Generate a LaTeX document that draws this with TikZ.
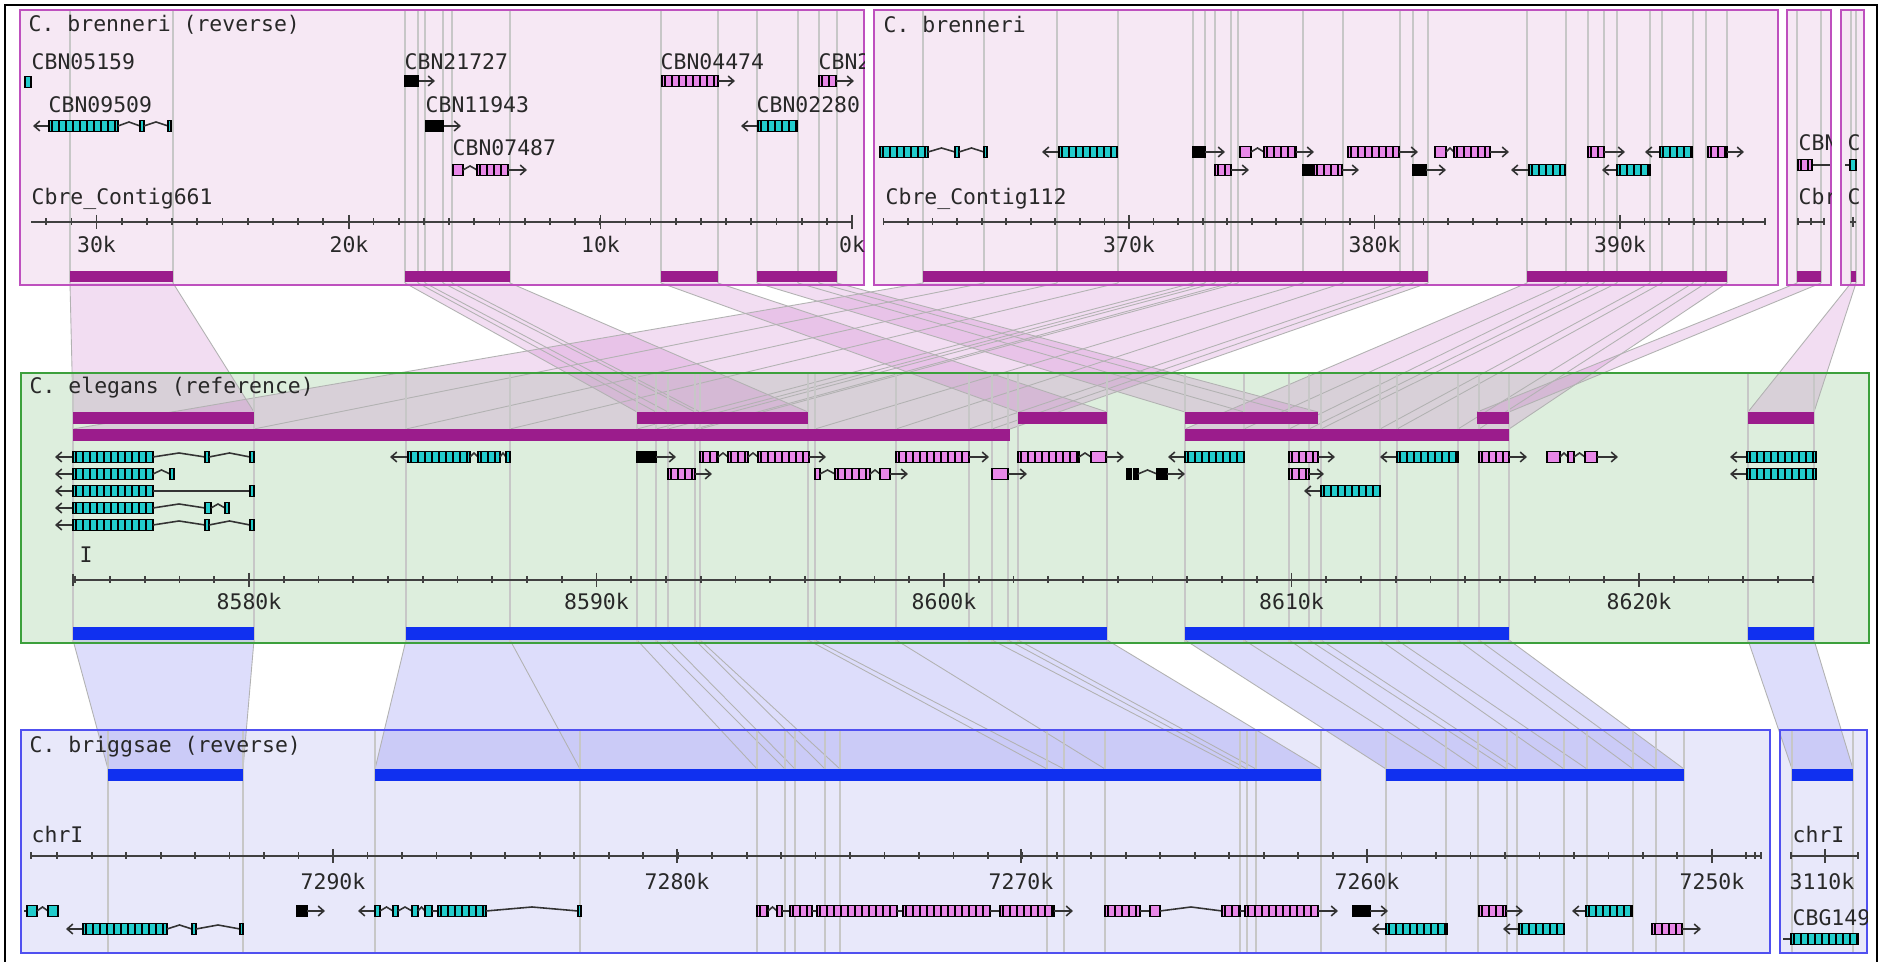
\documentclass[tikz,border=0pt]{standalone}
\usepackage{fontspec}
\setmonofont{DejaVu Sans Mono}
\usepackage{tikz}
\usetikzlibrary{arrows.meta}

\definecolor{pinkbg}{RGB}{246,232,244}
\definecolor{pinkedge}{RGB}{190,80,190}
\definecolor{magbar}{RGB}{155,28,140}
\definecolor{greenbg}{RGB}{221,238,221}
\definecolor{greenedge}{RGB}{60,160,60}
\definecolor{bluebg}{RGB}{232,232,250}
\definecolor{blueedge}{RGB}{80,80,240}
\definecolor{bluebar}{RGB}{16,48,240}
\definecolor{synpink}{RGB}{205,120,205}
\definecolor{synblue}{RGB}{120,120,240}
\definecolor{cyn}{RGB}{34,204,204}
\definecolor{pnk}{RGB}{232,136,232}
\definecolor{txtc}{RGB}{40,40,40}

\newcommand{\exbox}[4]{%
\fill[#4](#1,#3-5.5)rectangle(#2,#3+5.5);
\begin{scope}
\clip(#1,#3-5.5)rectangle(#2,#3+5.5);
\foreach \q in {3,10,...,160}\draw[line width=0.75pt](#1+\q,#3-6)--(#1+\q,#3+6);
\end{scope}
\draw[line width=0.4pt](#1,#3-5.5)rectangle(#2,#3+5.5);}
\newcommand{\plainex}[4]{\filldraw[fill=#4,draw=black,line width=0.4pt](#1,#3-5.5)rectangle(#2,#3+5.5);}
\newcommand{\intr}[3]{\draw[gl](#1,#3)--({(#1+#2)/2},#3-4)--(#2,#3);}

\begin{document}
\begin{tikzpicture}[x=0.01cm,y=-0.01cm,>={Straight Barb[length=1.6pt,width=2.8pt]},
gl/.style={line width=0.45pt,black!80},
ax/.style={line width=0.5pt,black!75},
vl/.style={line width=0.3pt,black!22},
synl/.style={line width=0.25pt,black!30},
synp/.style={fill=synpink,fill opacity=0.25},
synb/.style={fill=synblue,fill opacity=0.25},
lbl/.style={font=\ttfamily\fontsize{6.1}{7}\selectfont,text=txtc,inner sep=0,anchor=west},
klbl/.style={font=\ttfamily\fontsize{6.1}{7}\selectfont,text=txtc,inner sep=0}]
\useasboundingbox(0,0)rectangle(1881,962);
\fill[white](0,0)rectangle(1881,962);

\fill[pinkbg](20,10)rectangle(864,285);
\fill[pinkbg](874,10)rectangle(1778,285);
\fill[pinkbg](1787,10)rectangle(1831,285);
\fill[pinkbg](1841,10)rectangle(1864,285);
\fill[greenbg](21,373)rectangle(1869,643);
\fill[bluebg](21,730)rectangle(1770,953);
\fill[bluebg](1780,730)rectangle(1867,953);

\fill[synp](70,283)--(173,283)--(254,412)--(73,412)--cycle;
\fill[synp](405,283)--(510,283)--(808,412)--(637,412)--cycle;
\fill[synp](661,283)--(718,283)--(1107,412)--(1018,412)--cycle;
\fill[synp](757,283)--(837,283)--(1318,412)--(1185,412)--cycle;
\fill[synp](923,283)--(1428,283)--(1010,429)--(73,429)--cycle;
\fill[synp](1527,283)--(1727,283)--(1509,429)--(1185,429)--cycle;
\fill[synp](1797,283)--(1821,283)--(1509,412)--(1477,412)--cycle;
\fill[synp](1851,283)--(1856,283)--(1814,412)--(1748,412)--cycle;
\foreach \a/\b in {70/73,173/254,405/637,418/656,425/668,443/695,452/700,510/808,661/1018,718/1107,757/1185,798/1244,819/1289,837/1318,1797/1477,1821/1509,1851/1748,1856/1814}
\draw[synl](\a,283)--(\b,412);
\foreach \a/\b in {923/73,984/254,1057/406,1118/510,1193/637,1205/656,1215/668,1231/695,1238/700,1303/815,1343/896,1400/969,1413/992,1428/1010,1527/1185,1566/1244,1588/1289,1604/1309,1617/1321,1650/1380,1662/1397,1693/1458,1706/1479,1727/1509}
\draw[synl](\a,283)--(\b,429);

\fill[synb](73,640)--(254,640)--(243,769)--(108,769)--cycle;
\fill[synb](406,640)--(1107,640)--(1321,769)--(375,769)--cycle;
\fill[synb](1185,640)--(1509,640)--(1684,769)--(1386,769)--cycle;
\fill[synb](1748,640)--(1814,640)--(1853,769)--(1792,769)--cycle;
\foreach \a/\b in {73/108,254/243,406/375,510/580,637/757,656/785,668/795,695/825,700/840,808/1047,815/1064,896/1105,992/1240,1008/1247,1018/1256,1107/1321,1185/1386,1244/1446,1289/1478,1309/1507,1321/1517,1380/1564,1397/1587,1458/1633,1479/1656,1509/1684,1748/1792,1814/1853}
\draw[synl](\a,640)--(\b,769);

\foreach \x in {70,173,405,418,425,443,452,510,661,718,757,798,819,837,923,984,1057,1118,1193,1205,1215,1231,1238,1303,1343,1400,1413,1428,1527,1566,1588,1604,1617,1650,1662,1693,1706,1727,1797,1821,1851,1856}
\draw[vl](\x,10)--(\x,283);
\foreach \x in {73,254,406,510,637,656,668,695,700,808,815,896,969,992,1008,1018,1107,1185,1244,1289,1309,1321,1380,1397,1458,1479,1509,1748,1814}
\draw[vl](\x,373)--(\x,643);
\foreach \x in {108,243,375,580,757,785,795,825,840,1047,1064,1105,1240,1247,1256,1321,1386,1446,1478,1507,1517,1564,1587,1633,1656,1684,1792,1853}
\draw[vl](\x,730)--(\x,953);

\draw[pinkedge,line width=0.6pt](20,10)rectangle(864,285);
\draw[pinkedge,line width=0.6pt](874,10)rectangle(1778,285);
\draw[pinkedge,line width=0.6pt](1787,10)rectangle(1831,285);
\draw[pinkedge,line width=0.6pt](1841,10)rectangle(1864,285);
\draw[greenedge,line width=0.6pt](21,373)rectangle(1869,643);
\draw[blueedge,line width=0.6pt](21,730)rectangle(1770,953);
\draw[blueedge,line width=0.6pt](1780,730)rectangle(1867,953);
\draw[line width=0.7pt](5,962)--(5,5)--(1877,5)--(1877,962);

\foreach \a/\b in {70/173,405/510,661/718,757/837,923/1428,1527/1727,1797/1821,1851/1856}
\fill[magbar](\a,271)rectangle(\b,282);
\foreach \a/\b in {73/254,637/808,1018/1107,1185/1318,1477/1509,1748/1814}
\fill[magbar](\a,412)rectangle(\b,424);
\foreach \a/\b in {73/1010,1185/1509}
\fill[magbar](\a,429)rectangle(\b,441);
\foreach \a/\b in {73/254,406/1107,1185/1509,1748/1814}
\fill[bluebar](\a,627)rectangle(\b,640);
\foreach \a/\b in {108/243,375/1321,1386/1684,1792/1853}
\fill[bluebar](\a,769)rectangle(\b,781);

\begin{scope}
\clip(20,10)rectangle(864,285);
\node[lbl] at (28,25) {C. brenneri (reverse)};
\node[lbl] at (31,62) {CBN05159};
\plainex{25}{31}{82}{cyn}
\node[lbl] at (48,105) {CBN09509};
\draw[gl,->](49,126)--(33,126); \exbox{49}{118}{126}{cyn}
\intr{118}{140}{126} \plainex{140}{144}{126}{cyn} \intr{144}{168}{126} \plainex{168}{171}{126}{cyn}
\node[lbl] at (404,62) {CBN21727};
\draw[gl,->](418,81)--(435,81); \plainex{405}{418}{81}{black}
\node[lbl] at (425,105) {CBN11943};
\draw[gl,->](443,126)--(461,126); \plainex{426}{443}{126}{black}
\node[lbl] at (452,148) {CBN07487};
\plainex{453}{463}{170}{pnk} \intr{463}{477}{170} \exbox{477}{508}{170}{pnk} \draw[gl,->](508,170)--(527,170);
\node[lbl] at (660,62) {CBN04474};
\exbox{662}{718}{81}{pnk} \draw[gl,->](718,81)--(735,81);
\node[lbl] at (818,62) {CBN2};
\exbox{819}{836}{81}{pnk} \draw[gl,->](836,81)--(854,81);
\node[lbl] at (756,105) {CBN02280};
\draw[gl,->](758,126)--(741,126); \exbox{758}{797}{126}{cyn}
\node[lbl] at (31,199) {Cbre\_Contig661};
\draw[ax](31,222)--(852,222);
\foreach \k in {0,...,32}\draw[ax]({852-25.18*\k},218.5)--++(0,7);
\foreach \x/\t in {96.5/30k,349/20k,600.5/10k,852/0k}
{\draw[ax](\x,215)--(\x,229); \node[klbl] at (\x,245) {\t};}
\end{scope}

\begin{scope}
\clip(874,10)rectangle(1778,285);
\node[lbl] at (883,25) {C. brenneri};
\exbox{880}{928}{152}{cyn} \intr{928}{955}{152} \plainex{955}{959}{152}{cyn} \intr{959}{984}{152} \plainex{984}{987}{152}{cyn}
\draw[gl,->](1059,152)--(1042,152); \exbox{1059}{1117}{152}{cyn}
\plainex{1193}{1205}{152}{black} \draw[gl,->](1205,152)--(1225,152);
\plainex{1240}{1251}{152}{pnk} \intr{1251}{1264}{152} \exbox{1264}{1296}{152}{pnk} \draw[gl,->](1296,152)--(1314,152);
\exbox{1348}{1399}{152}{pnk} \draw[gl,->](1399,152)--(1418,152);
\plainex{1435}{1446}{152}{pnk} \intr{1446}{1454}{152} \exbox{1454}{1490}{152}{pnk} \draw[gl,->](1490,152)--(1509,152);
\exbox{1588}{1604}{152}{pnk} \draw[gl,->](1604,152)--(1625,152);
\draw[gl,->](1660,152)--(1645,152); \exbox{1660}{1692}{152}{cyn}
\exbox{1708}{1727}{152}{pnk} \draw[gl,->](1727,152)--(1744,152);
\exbox{1215}{1231}{170}{pnk} \draw[gl,->](1231,170)--(1249,170);
\plainex{1303}{1312}{170}{black} \exbox{1314}{1342}{170}{pnk} \draw[gl,->](1342,170)--(1359,170);
\plainex{1413}{1426}{170}{black} \draw[gl,->](1426,170)--(1446,170);
\draw[gl,->](1529,170)--(1511,170); \exbox{1529}{1565}{170}{cyn}
\draw[gl,->](1617,170)--(1602,170); \exbox{1617}{1650}{170}{cyn}
\node[lbl] at (885,199) {Cbre\_Contig112};
\draw[ax](883,222)--(1765,222);
\foreach \k in {-10,...,25}\draw[ax]({1129+24.55*\k},218.5)--++(0,7);
\draw[ax](1765,218.5)--++(0,7);
\foreach \x/\t in {1129/370k,1374.5/380k,1620/390k}
{\draw[ax](\x,215)--(\x,229); \node[klbl] at (\x,245) {\t};}
\end{scope}

\begin{scope}
\clip(1787,10)rectangle(1831,285);
\node[lbl] at (1798,143) {CBN};
\draw[gl](1812,165)--(1830,165); \exbox{1798}{1812}{165}{pnk}
\node[lbl] at (1798,197) {Cbre};
\draw[ax](1798,222)--(1824,222);
\foreach \x in {1798,1811,1824}\draw[ax](\x,218.5)--++(0,7);
\end{scope}
\begin{scope}
\clip(1841,10)rectangle(1864,285);
\node[lbl] at (1847,143) {C};
\draw[gl](1845,165)--(1850,165); \plainex{1850}{1856}{165}{cyn}
\node[lbl] at (1847,197) {C};
\draw[ax](1850,222)--(1856,222)(1853,217)--(1853,227);
\end{scope}

\begin{scope}
\clip(21,373)rectangle(1869,643);
\node[lbl] at (29,388) {C. elegans (reference)};
\foreach \y in {457,525}{
\draw[gl,->](73,\y)--(55,\y); \exbox{73}{153}{\y}{cyn} \intr{153}{205}{\y} \plainex{205}{209}{\y}{cyn} \intr{209}{250}{\y} \plainex{250}{254}{\y}{cyn}}
\draw[gl,->](408,457)--(390,457); \exbox{408}{470}{457}{cyn} \intr{470}{478}{457} \exbox{478}{500}{457}{cyn} \intr{500}{506}{457} \plainex{506}{510}{457}{cyn}
\plainex{637}{656}{457}{black} \draw[gl,->](656,457)--(676,457);
\exbox{700}{718}{457}{pnk} \intr{718}{728}{457} \exbox{728}{748}{457}{pnk} \intr{748}{758}{457} \exbox{758}{809}{457}{pnk} \draw[gl,->](809,457)--(826,457);
\exbox{896}{969}{457}{pnk} \draw[gl,->](969,457)--(989,457);
\exbox{1018}{1079}{457}{pnk} \intr{1079}{1091}{457} \plainex{1091}{1106}{457}{pnk} \draw[gl,->](1106,457)--(1124,457);
\draw[gl,->](1185,457)--(1168,457); \exbox{1185}{1244}{457}{cyn}
\exbox{1289}{1318}{457}{pnk} \draw[gl,->](1318,457)--(1335,457);
\draw[gl,->](1397,457)--(1380,457); \exbox{1397}{1458}{457}{cyn}
\exbox{1479}{1509}{457}{pnk} \draw[gl,->](1509,457)--(1527,457);
\plainex{1547}{1560}{457}{pnk} \intr{1560}{1568}{457} \plainex{1568}{1574}{457}{pnk} \intr{1574}{1585}{457} \plainex{1585}{1597}{457}{pnk} \draw[gl,->](1597,457)--(1618,457);
\draw[gl,->](73,474)--(55,474); \exbox{73}{153}{474}{cyn} \intr{153}{170}{474} \plainex{170}{174}{474}{cyn}
\exbox{668}{695}{474}{pnk} \draw[gl,->](695,474)--(712,474);
\plainex{815}{820}{474}{pnk} \intr{820}{835}{474} \exbox{835}{870}{474}{pnk} \intr{870}{880}{474} \plainex{880}{890}{474}{pnk} \draw[gl,->](890,474)--(908,474);
\plainex{992}{1008}{474}{pnk} \draw[gl,->](1008,474)--(1027,474);
\plainex{1127}{1131}{474}{black} \plainex{1134}{1138}{474}{black} \intr{1138}{1157}{474} \plainex{1157}{1167}{474}{black} \draw[gl,->](1167,474)--(1185,474);
\exbox{1289}{1309}{474}{pnk} \draw[gl,->](1309,474)--(1324,474);
\foreach \y in {457,474}{\draw[gl,->](1747,\y)--(1730,\y); \exbox{1747}{1816}{\y}{cyn}}
\draw[gl,->](73,491)--(55,491); \exbox{73}{153}{491}{cyn} \draw[gl](153,491)--(250,491); \plainex{250}{254}{491}{cyn}
\draw[gl,->](1321,491)--(1304,491); \exbox{1321}{1380}{491}{cyn}
\draw[gl,->](73,508)--(55,508); \exbox{73}{153}{508}{cyn} \intr{153}{205}{508} \plainex{205}{211}{508}{cyn} \intr{211}{225}{508} \plainex{225}{229}{508}{cyn}
\node[lbl] at (79,555) {I};
\draw[ax](73,580)--(1814,580);
\foreach \k in {-5,...,45}\draw[ax]({249+34.75*\k},576.5)--++(0,7);
\draw[ax](73,574)--(73,586);
\foreach \x/\t in {249/8580k,596.5/8590k,944/8600k,1291.5/8610k,1639/8620k}
{\draw[ax](\x,573)--(\x,587); \node[klbl] at (\x,602) {\t};}
\end{scope}

\begin{scope}
\clip(21,730)rectangle(1770,953);
\node[lbl] at (29,747) {C. briggsae (reverse)};
\node[lbl] at (31,835) {chrI};
\draw[ax](31,856)--(1761,856);
\foreach \k in {-8,...,41}\draw[ax]({333+34.47*\k},852.5)--++(0,7);
\foreach \x in {31,1755,1761}\draw[ax](\x,852.5)--++(0,7);
\foreach \x/\t in {333/7290k,677/7280k,1021/7270k,1367/7260k,1712/7250k}
{\draw[ax](\x,849)--(\x,863); \node[klbl] at (\x,882) {\t};}
\draw[gl](24,911)--(27,911); \plainex{27}{37}{911}{cyn} \intr{37}{48}{911} \plainex{48}{58}{911}{cyn}
\plainex{297}{307}{911}{black} \draw[gl,->](307,911)--(325,911);
\draw[gl,->](375,911)--(358,911); \plainex{375}{380}{911}{cyn} \intr{380}{393}{911} \plainex{393}{398}{911}{cyn} \intr{398}{412}{911} \plainex{412}{418}{911}{cyn} \intr{418}{425}{911} \plainex{425}{432}{911}{cyn}
\draw[gl](432,911)--(438,911); \exbox{438}{486}{911}{cyn} \intr{486}{578}{911} \plainex{578}{581}{911}{cyn}
\exbox{757}{768}{911}{pnk} \intr{768}{777}{911} \plainex{777}{782}{911}{pnk} \draw[gl](782,911)--(790,911); \exbox{790}{812}{911}{pnk}
\draw[gl](812,911)--(817,911); \exbox{817}{897}{911}{pnk} \draw[gl](897,911)--(903,911); \exbox{903}{990}{911}{pnk}
\draw[gl](990,911)--(1000,911); \exbox{1000}{1054}{911}{pnk} \draw[gl,->](1054,911)--(1073,911);
\exbox{1105}{1140}{911}{pnk} \draw[gl](1140,911)--(1150,911); \plainex{1150}{1160}{911}{pnk} \intr{1160}{1222}{911}
\exbox{1222}{1240}{911}{pnk} \draw[gl](1240,911)--(1245,911); \exbox{1245}{1318}{911}{pnk} \draw[gl,->](1318,911)--(1338,911);
\plainex{1353}{1370}{911}{black} \draw[gl,->](1370,911)--(1388,911);
\exbox{1479}{1506}{911}{pnk} \draw[gl,->](1506,911)--(1523,911);
\draw[gl,->](1586,911)--(1572,911); \exbox{1586}{1632}{911}{cyn}
\draw[gl,->](83,929)--(66,929); \exbox{83}{167}{929}{cyn} \intr{167}{192}{929} \plainex{192}{196}{929}{cyn} \intr{196}{240}{929} \plainex{240}{243}{929}{cyn}
\draw[gl,->](1386,929)--(1372,929); \exbox{1386}{1447}{929}{cyn}
\draw[gl,->](1519,929)--(1503,929); \exbox{1519}{1564}{929}{cyn}
\exbox{1652}{1682}{929}{pnk} \draw[gl,->](1682,929)--(1701,929);
\end{scope}

\begin{scope}
\clip(1780,730)rectangle(1867,953);
\node[lbl] at (1792,835) {chrI};
\draw[ax](1791,856)--(1858,856);
\foreach \x in {1791,1858}\draw[ax](\x,852.5)--++(0,7);
\draw[ax](1825,849)--(1825,863);
\node[klbl] at (1822,882) {3110k};
\node[lbl] at (1792,918) {CBG149};
\draw[gl](1783,939)--(1791,939); \exbox{1791}{1858}{939}{cyn}
\end{scope}
\end{tikzpicture}
\end{document}
